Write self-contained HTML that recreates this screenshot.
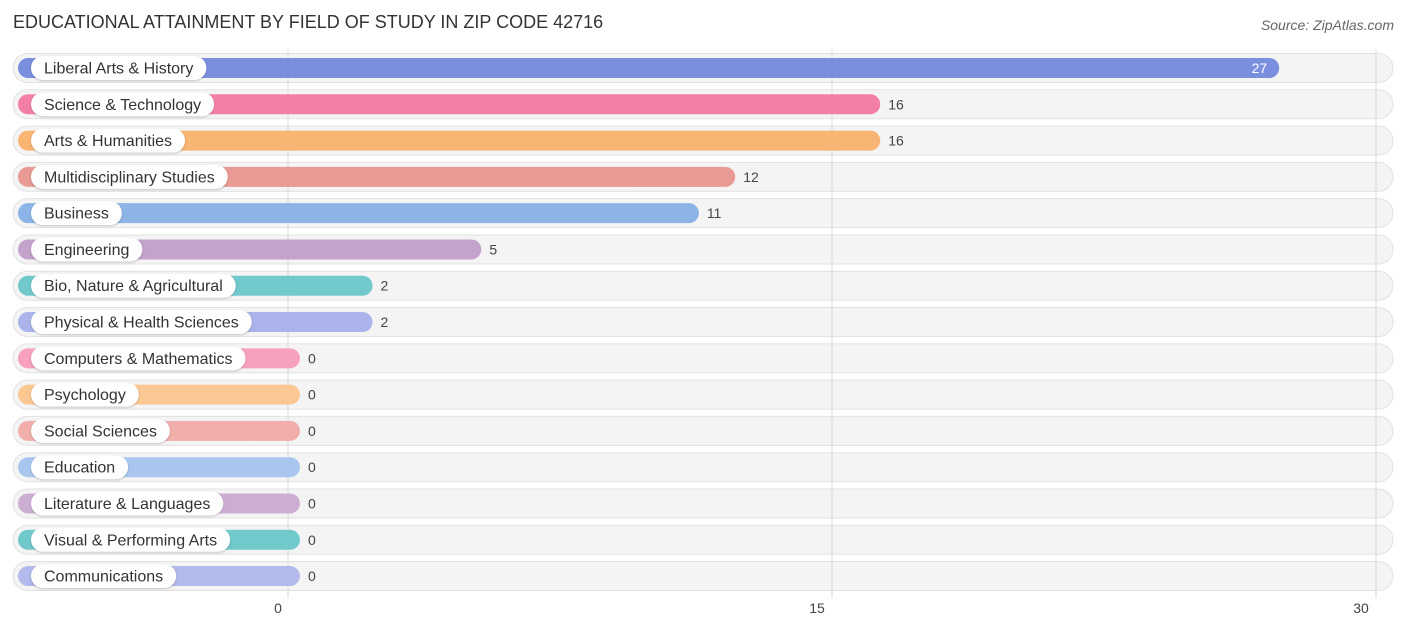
<!DOCTYPE html>
<html><head><meta charset="utf-8"><style>
body{margin:0;background:#fff;font-family:"Liberation Sans",Roboto,sans-serif;}
#wrap{position:relative;width:1406px;height:631px;}
</style></head><body>
<div id="wrap">
<svg id="chart" width="1406" height="631">
<text x="13" y="28" font-size="18" fill="#333">EDUCATIONAL ATTAINMENT BY FIELD OF STUDY IN ZIP CODE 42716</text>
<text x="1394" y="30" font-size="14" fill="#666" font-style="italic" text-anchor="end">Source: ZipAtlas.com</text>
</svg>
</div>
<script>
const categories=["Liberal Arts & History","Science & Technology","Arts & Humanities","Multidisciplinary Studies","Business","Engineering","Bio, Nature & Agricultural","Physical & Health Sciences","Computers & Mathematics","Psychology","Social Sciences","Education","Literature & Languages","Visual & Performing Arts","Communications"];
const values=[27,16,16,12,11,5,2,2,0,0,0,0,0,0,0];
const tickValues=[0,15,30];
const colors=["#7b8fdf","#f47fa6","#f9b573","#e99a95","#8db4e6","#c3a2cb","#72c9cc","#aab4ea","#f7a1be","#fbc894","#f1aeaa","#a8c6ee","#cdaed3","#72c9cc","#b2baeb"];
const svg=document.getElementById('chart');
const NS="http://www.w3.org/2000/svg";
const x0=288,pxPerUnit=(1376-288)/30;
const xs=v=>x0+v*pxPerUnit;
const rowY=i=>68+i*36.29;
function mk(tag,attrs){const e=document.createElementNS(NS,tag);for(const k in attrs)e.setAttribute(k,attrs[k]);svg.appendChild(e);return e;}
// rows backgrounds
categories.forEach((c,i)=>{const y=rowY(i);
 const bg=mk('rect',{x:13,y:y-14.5,width:1380,height:29,rx:14.5,fill:'#f4f4f4',stroke:'#e2e2e2','stroke-width':1});
 
 
});
// gridlines
tickValues.forEach(t=>{
 const l=mk('line',{x1:xs(t),x2:xs(t),y1:50,y2:598,stroke:'#d8d8d8','stroke-width':1});
 
 
 const tx=mk('text',{x:xs(t)-(t===0?10:(t===30?15:15)),y:613,'font-size':14,fill:'#444','text-anchor':'middle'});
 tx.textContent=t;
 
 
});
categories.forEach((c,i)=>{const y=rowY(i);const v=values[i];
 const end=xs(v)+12;
 const bar=mk('rect',{x:18,y:y-10,width:end-18,height:20,rx:10,fill:colors[i]});
 
 
 const lab=document.createElementNS(NS,'text');
 lab.setAttribute('x',44);lab.setAttribute('y',y+5.5);lab.setAttribute('font-size',16);lab.setAttribute('fill','#333');
 lab.textContent=c;svg.appendChild(lab);
 const w=lab.getComputedTextLength();
 const pill=document.createElementNS(NS,'rect');
 pill.setAttribute('x',31);pill.setAttribute('y',y-12);pill.setAttribute('width',w+26);pill.setAttribute('height',24);pill.setAttribute('rx',12);
 pill.setAttribute('fill','#fff');pill.setAttribute('style','filter:drop-shadow(0 1px 1px rgba(0,0,0,0.2))');
 svg.insertBefore(pill,lab);
 
 
 
 
 const inside=v>=20;
 const vl=mk('text',{x:inside?end-12:end+8,y:y+5,'font-size':14,fill:inside?'#fff':'#444','text-anchor':inside?'end':'start'});
 vl.textContent=v;
 
 
});
</script>
</body></html>
